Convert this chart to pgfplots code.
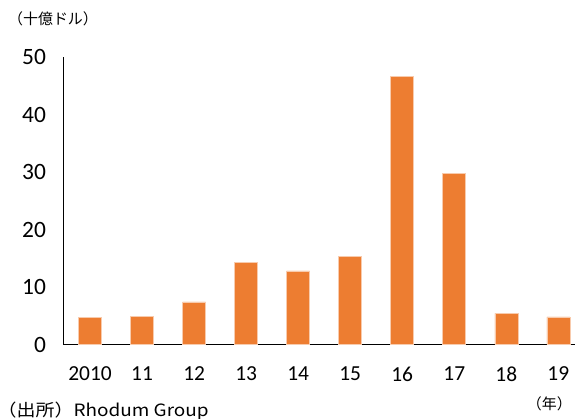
\documentclass[border=0pt]{standalone}
\usepackage{pgfplots}
\pgfplotsset{compat=1.18}
\usepackage{fontspec}
\setmainfont{Carlito}
\newfontfamily\jp{Noto Sans CJK JP}
\newfontfamily\jpwide[FakeStretch=1.12]{Noto Sans CJK JP}
\definecolor{barorange}{HTML}{ED7D31}
\definecolor{baredge}{HTML}{F8CBAD}

\begin{document}
\begin{tikzpicture}
\begin{axis}[
  anchor=south west,
  scale only axis,
  width=511.5bp, height=287.5bp,
  xmin=-0.51, xmax=9.32,
  ymin=0, ymax=50,
  axis lines*=left,
  axis line style={black, line width=1.6bp, -},
  xtick=data,
  xticklabels={2010,11,12,13,14,15,16,17,18,19},
  ytick={0,10,20,30,40,50},
  major tick length=0pt,
  /pgf/number format/assume math mode=true,
  xticklabel style={font=\fontsize{21.5}{24}\selectfont, yshift=-19bp},
  yticklabel style={font=\fontsize{23.5}{26}\selectfont, xshift=-14bp},
  clip=false,
]
\addplot[ybar, bar width=23bp, fill=barorange, draw=baredge, line width=0.6bp]
  coordinates {(0,4.65) (1,4.9) (2,7.4) (3,14.3) (4,12.8)
               (5,15.3) (6,46.6) (7,29.8) (8,5.4) (9,4.8)};
\end{axis}
% page frame: axis corner sits 63.5bp from the left and 74.5bp from the bottom
\pgfresetboundingbox
\path[use as bounding box] (-63.5bp,-74.5bp) rectangle (511.5bp,344.5bp);
\node[anchor=west, inner sep=0] at (-55.5bp,325.5bp) {\jp\fontsize{15}{18}\selectfont （十億ドル）};
\node[anchor=west, inner sep=0] at (-66bp,-66.5bp) {\jpwide\fontsize{17}{20}\selectfont （出所）Rhodum Group};
\node[anchor=east, inner sep=0] at (508.5bp,-59.5bp) {\jp\fontsize{15}{18}\selectfont （年）};
\end{tikzpicture}
\end{document}
